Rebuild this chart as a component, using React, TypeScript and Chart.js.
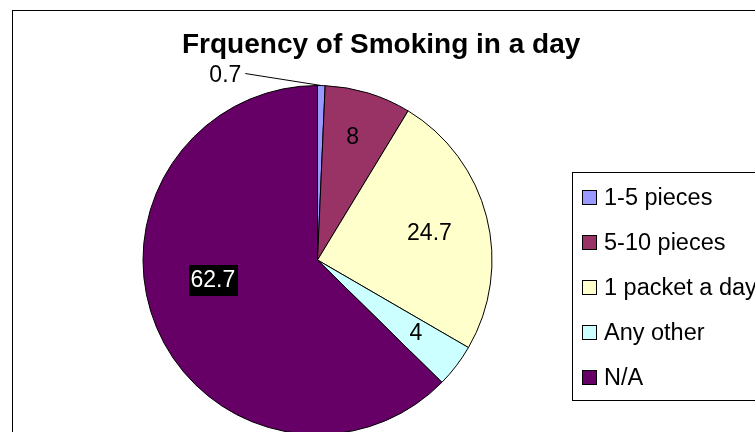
import { useEffect, useRef } from 'react';
import { Chart, registerables } from 'chart.js';

Chart.register(...registerables);

const TITLE = 'Frquency of Smoking in a day';
const categories = ['1-5 pieces', '5-10 pieces', '1 packet a day', 'Any other', 'N/A'];
const shares = [0.7, 8, 24.7, 4, 62.7];
const sliceColors = ['#9999FF', '#993366', '#FFFFCC', '#CCFFFF', '#660066'];

const FONT = "'Liberation Sans', Arial, sans-serif";
const W = 755;
const H = 432;

// where each value label sits: fraction of the radius plus an angular nudge (deg)
type Placement = { outside?: boolean; r?: number; da?: number; boxed?: boolean };
const labelPlacement: Placement[] = [
  { outside: true },
  { r: 0.736, da: -1 },
  { r: 0.66, da: 0.7 },
  { r: 0.7, da: -1 },
  { r: 0.61, da: 12, boxed: true },
];
const LEADER = { dx: -76, dy: -12 };

const decorations = {
  id: 'decorations',
  beforeDraw(chart: any) {
    const { ctx } = chart;
    ctx.save();
    ctx.fillStyle = '#ffffff';
    ctx.fillRect(0, 0, chart.width, chart.height);
    ctx.strokeStyle = '#000000';
    ctx.lineWidth = 1;
    ctx.strokeRect(12.5, 10.5, chart.width + 40, chart.height + 40);
    ctx.restore();
  },
  afterDatasetsDraw(chart: any) {
    const { ctx } = chart;
    const meta = chart.getDatasetMeta(0);
    const values = chart.data.datasets[0].data as number[];
    ctx.save();
    ctx.font = `23px ${FONT}`;
    meta.data.forEach((el: any, i: number) => {
      const { x, y, startAngle, endAngle, outerRadius } = el.getProps(
        ['x', 'y', 'startAngle', 'endAngle', 'outerRadius'],
        true
      );
      const p = labelPlacement[i];
      const text = String(values[i]);
      const mid = (startAngle + endAngle) / 2;
      if (p.outside) {
        const ax = x + outerRadius * Math.cos(mid);
        const ay = y + outerRadius * Math.sin(mid);
        const ex = ax + LEADER.dx;
        const ey = ay + LEADER.dy;
        ctx.strokeStyle = '#000000';
        ctx.lineWidth = 1;
        ctx.beginPath();
        ctx.moveTo(ax, ay);
        ctx.lineTo(ex, ey);
        ctx.stroke();
        ctx.fillStyle = '#000000';
        ctx.textAlign = 'right';
        ctx.textBaseline = 'middle';
        ctx.fillText(text, ex - 4, ey + 2);
        return;
      }
      const a = mid + ((p.da || 0) * Math.PI) / 180;
      const lx = x + (p.r || 0.6) * outerRadius * Math.cos(a);
      const ly = y + (p.r || 0.6) * outerRadius * Math.sin(a);
      ctx.textAlign = 'center';
      ctx.textBaseline = 'middle';
      if (p.boxed) {
        const tw = ctx.measureText(text).width;
        ctx.fillStyle = '#000000';
        ctx.fillRect(Math.round(lx - tw / 2 - 2), Math.round(ly - 15), Math.round(tw + 4), 31);
        ctx.fillStyle = '#ffffff';
      } else {
        ctx.fillStyle = '#000000';
      }
      ctx.fillText(text, lx, ly + 1);
    });
    ctx.restore();
  },
  afterDraw(chart: any) {
    const { ctx } = chart;
    const ds = chart.data.datasets[0];
    ctx.save();

    // title
    ctx.fillStyle = '#000000';
    ctx.font = `bold 28px ${FONT}`;
    ctx.textAlign = 'left';
    ctx.textBaseline = 'alphabetic';
    ctx.fillText(TITLE, 182, 53);

    // legend
    ctx.strokeStyle = '#000000';
    ctx.lineWidth = 1;
    ctx.strokeRect(572.5, 172.5, 300, 228);
    ctx.font = `23.5px ${FONT}`;
    ctx.textBaseline = 'middle';
    (chart.data.labels as string[]).forEach((label: string, i: number) => {
      const cy = 197.5 + i * 45;
      ctx.fillStyle = ds.backgroundColor[i];
      ctx.fillRect(582.5, cy - 7, 14, 14);
      ctx.strokeStyle = '#000000';
      ctx.strokeRect(582.5, cy - 7, 14, 14);
      ctx.fillStyle = '#000000';
      ctx.fillText(label, 604, cy + 1);
    });
    ctx.restore();
  },
};

export default function App() {
  const canvasRef = useRef<HTMLCanvasElement | null>(null);

  useEffect(() => {
    if (!canvasRef.current) return;
    const chart = new Chart(canvasRef.current, {
      type: 'pie',
      data: {
        labels: categories,
        datasets: [
          {
            data: shares,
            backgroundColor: sliceColors,
            borderColor: '#000000',
            borderWidth: 1,
            clip: false as any,
          },
        ],
      },
      options: {
        responsive: false,
        animation: false,
        radius: 174.5,
        layout: { padding: { left: 0, right: 120, top: 88, bottom: 0 } },
        plugins: {
          legend: { display: false },
          title: { display: false },
          tooltip: { enabled: false },
        },
      } as any,
      plugins: [decorations],
    });
    return () => chart.destroy();
  }, []);

  return (
    <div style={{ position: 'fixed', left: 0, top: 0, width: W, height: H, overflow: 'hidden', background: '#fff' }}>
      <canvas ref={canvasRef} width={W} height={H} style={{ display: 'block' }} />
    </div>
  );
}
